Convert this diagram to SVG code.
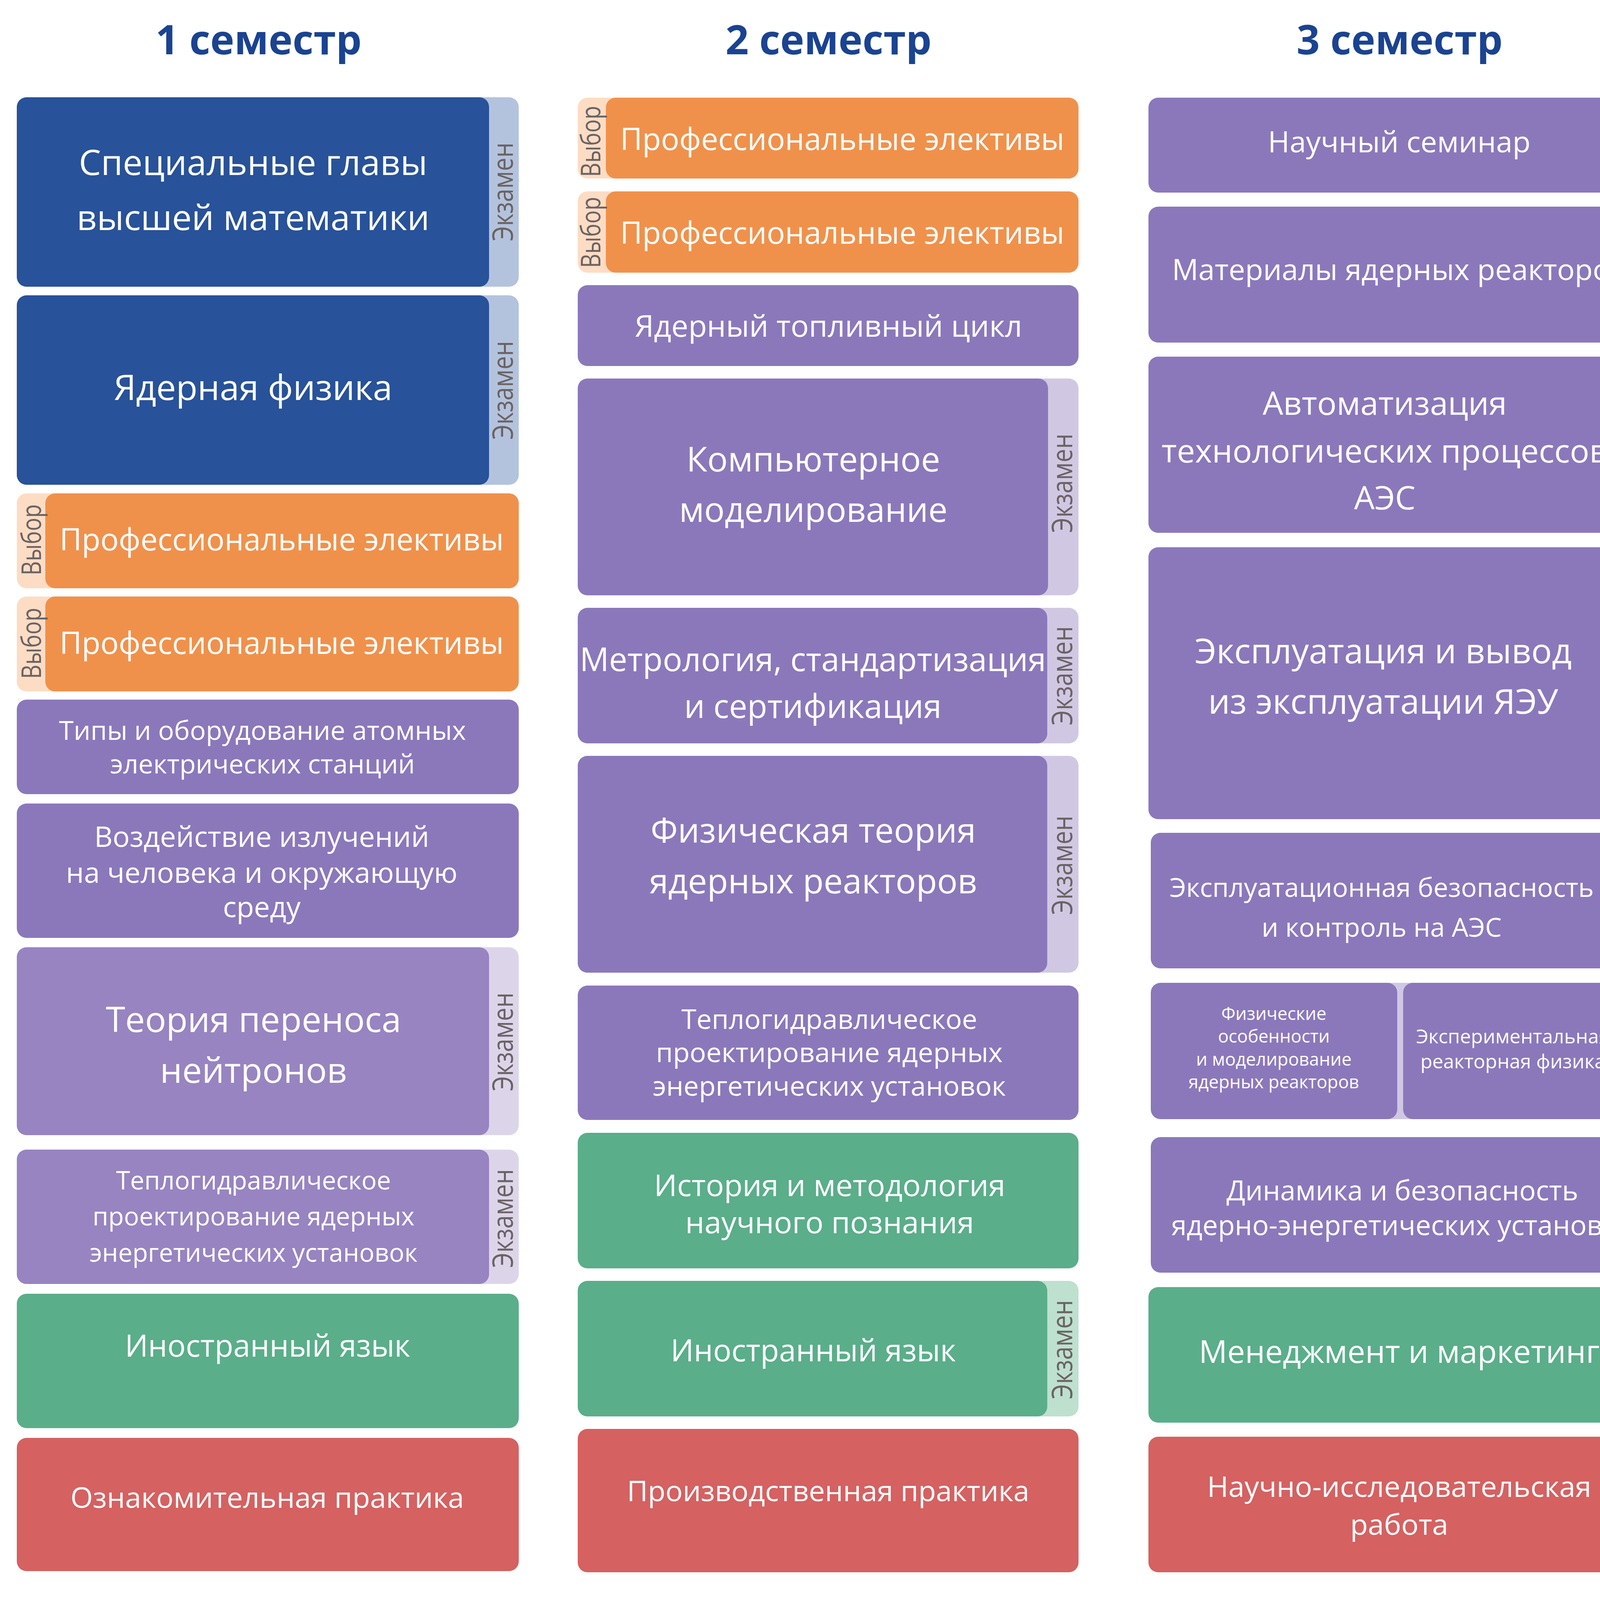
<svg xmlns="http://www.w3.org/2000/svg" width="5700" height="4327" viewBox="0 0 5700 4327">
<style>
text{font-family:"Open Sans","Noto Sans","DejaVu Sans",sans-serif}
.t{fill:#fff;text-anchor:middle}
.title{fill:#1a4391;font-weight:700;font-size:104px;text-anchor:middle}
.leg{fill:#1a4391;font-size:78px}
.ex{fill:#6a6363;font-size:74px;text-anchor:middle}
.vy{fill:#6a6363;font-size:70px;text-anchor:middle}
.blue{fill:#285299}.tblue{fill:#b4c3dd}
.or{fill:#f0914b}.tor{fill:#fddcc4}
.pu{fill:#8b78bb}.tpu{fill:#d0c8e3}
.pl{fill:#9784c1}.tpl{fill:#dcd5ea}
.gr{fill:#5aae8a}.tgr{fill:#bde0cf}
.rd{fill:#d56161}
</style>
<rect width="5700" height="4327" fill="#fff"/>
<g id="titles">
<text class="title" x="662" y="139">1 семестр</text>
<text class="title" x="2121" y="139">2 семестр</text>
<text class="title" x="3583" y="139">3 семестр</text>
<text class="title" x="5044" y="139">4 семестр</text>
</g>
<g id="connectors"/>
<!-- Column 1 -->
<g id="s1-math">
<rect class="tblue" x="43" y="249" width="1285" height="485" rx="25"/>
<rect class="blue" x="43" y="249" width="1209" height="485" rx="25"/>
<text class="t" font-size="90" x="648" y="448">Специальные главы</text>
<text class="t" font-size="90" x="648" y="589">высшей математики</text>
<text class="ex" transform="translate(1313,491) rotate(-90)" textLength="253" lengthAdjust="spacingAndGlyphs">Экзамен</text>
</g>
<g id="s1-nucphys">
<rect class="tblue" x="43" y="756" width="1285" height="485" rx="25"/>
<rect class="blue" x="43" y="756" width="1209" height="485" rx="25"/>
<text class="t" font-size="90" x="648" y="1024">Ядерная физика</text>
<text class="ex" transform="translate(1313,999) rotate(-90)" textLength="253" lengthAdjust="spacingAndGlyphs">Экзамен</text>
</g>
<g id="s1-elect1">
<rect class="tor" x="43" y="1263" width="1285" height="243" rx="25"/>
<rect class="or" x="116" y="1263" width="1212" height="243" rx="25"/>
<text class="t" font-size="78" x="721" y="1409">Профессиональные элективы</text>
<text class="vy" transform="translate(105,1382) rotate(-90)" textLength="182" lengthAdjust="spacingAndGlyphs">Выбор</text>
</g>
<g id="s1-elect2">
<rect class="tor" x="43" y="1527" width="1285" height="243" rx="25"/>
<rect class="or" x="116" y="1527" width="1212" height="243" rx="25"/>
<text class="t" font-size="78" x="721" y="1674">Профессиональные элективы</text>
<text class="vy" transform="translate(105,1647) rotate(-90)" textLength="182" lengthAdjust="spacingAndGlyphs">Выбор</text>
</g>
<g id="s1-npp">
<rect class="pu" x="43" y="1791" width="1285" height="242" rx="25"/>
<text class="t" font-size="68" x="672" y="1894">Типы и оборудование атомных</text>
<text class="t" font-size="68" x="672" y="1980">электрических станций</text>
</g>
<g id="s1-radiation">
<rect class="pu" x="43" y="2057" width="1285" height="344" rx="25"/>
<text class="t" font-size="73" x="670" y="2168">Воздействие излучений</text>
<text class="t" font-size="73" x="670" y="2260">на человека и окружающую</text>
<text class="t" font-size="73" x="670" y="2348">среду</text>
</g>
<g id="s1-transport">
<rect class="tpl" x="43" y="2425" width="1285" height="481" rx="25"/>
<rect class="pl" x="43" y="2425" width="1209" height="481" rx="25"/>
<text class="t" font-size="90" x="649" y="2642">Теория переноса</text>
<text class="t" font-size="90" x="649" y="2772">нейтронов</text>
<text class="ex" transform="translate(1313,2667) rotate(-90)" textLength="253" lengthAdjust="spacingAndGlyphs">Экзамен</text>
</g>
<g id="s1-thermo">
<rect class="tpl" x="43" y="2943" width="1285" height="344" rx="25"/>
<rect class="pl" x="43" y="2943" width="1209" height="344" rx="25"/>
<text class="t" font-size="65" x="649" y="3045">Теплогидравлическое</text>
<text class="t" font-size="65" x="649" y="3137">проектирование ядерных</text>
<text class="t" font-size="65" x="649" y="3230">энергетических установок</text>
<text class="ex" transform="translate(1313,3119) rotate(-90)" textLength="253" lengthAdjust="spacingAndGlyphs">Экзамен</text>
</g>
<g id="s1-lang">
<rect class="gr" x="43" y="3312" width="1285" height="344" rx="25"/>
<text class="t" font-size="78" x="685" y="3473">Иностранный язык</text>
</g>
<g id="s1-practice">
<rect class="rd" x="43" y="3681" width="1285" height="341" rx="25"/>
<text class="t" font-size="74" x="684" y="3860">Ознакомительная практика</text>
</g>
<!-- Column 2 -->
<g id="s2-elect1">
<rect class="tor" x="1479" y="250" width="1282" height="207" rx="25"/>
<rect class="or" x="1551" y="250" width="1210" height="207" rx="25"/>
<text class="t" font-size="78" x="2156" y="384">Профессиональные элективы</text>
<text class="vy" transform="translate(1537,362) rotate(-90)" textLength="182" lengthAdjust="spacingAndGlyphs">Выбор</text>
</g>
<g id="s2-elect2">
<rect class="tor" x="1479" y="490" width="1282" height="208" rx="25"/>
<rect class="or" x="1551" y="490" width="1210" height="208" rx="25"/>
<text class="t" font-size="78" x="2156" y="624">Профессиональные элективы</text>
<text class="vy" transform="translate(1537,595) rotate(-90)" textLength="182" lengthAdjust="spacingAndGlyphs">Выбор</text>
</g>
<g id="s2-fuel">
<rect class="pu" x="1479" y="730" width="1282" height="207" rx="25"/>
<text class="t" font-size="77.5" x="2121" y="862">Ядерный топливный цикл</text>
</g>
<g id="s2-modeling">
<rect class="tpu" x="1479" y="969" width="1282" height="555" rx="25"/>
<rect class="pu" x="1479" y="969" width="1204" height="555" rx="25"/>
<text class="t" font-size="87.5" x="2082" y="1207">Компьютерное</text>
<text class="t" font-size="87.5" x="2082" y="1336">моделирование</text>
<text class="ex" transform="translate(2745,1237) rotate(-90)" textLength="254" lengthAdjust="spacingAndGlyphs">Экзамен</text>
</g>
<g id="s2-metrology">
<rect class="tpu" x="1479" y="1556" width="1282" height="347" rx="25"/>
<rect class="pu" x="1479" y="1556" width="1202" height="347" rx="25"/>
<text class="t" font-size="83.5" x="2081" y="1718">Метрология, стандартизация</text>
<text class="t" font-size="83.5" x="2081" y="1838">и сертификация</text>
<text class="ex" transform="translate(2745,1730) rotate(-90)" textLength="254" lengthAdjust="spacingAndGlyphs">Экзамен</text>
</g>
<g id="s2-reactor-theory">
<rect class="tpu" x="1479" y="1935" width="1282" height="555" rx="25"/>
<rect class="pu" x="1479" y="1935" width="1202" height="555" rx="25"/>
<text class="t" font-size="87.5" x="2082" y="2157">Физическая теория</text>
<text class="t" font-size="87.5" x="2082" y="2287">ядерных реакторов</text>
<text class="ex" transform="translate(2745,2215) rotate(-90)" textLength="254" lengthAdjust="spacingAndGlyphs">Экзамен</text>
</g>
<g id="s2-thermo">
<rect class="pu" x="1479" y="2523" width="1282" height="344" rx="25"/>
<text class="t" font-size="70" x="2123" y="2634">Теплогидравлическое</text>
<text class="t" font-size="70" x="2123" y="2719">проектирование ядерных</text>
<text class="t" font-size="70" x="2123" y="2805">энергетических установок</text>
</g>
<g id="s2-history">
<rect class="gr" x="1479" y="2900" width="1282" height="347" rx="25"/>
<text class="t" font-size="77.5" x="2124" y="3062">История и методология</text>
<text class="t" font-size="77.5" x="2124" y="3157">научного познания</text>
</g>
<g id="s2-lang">
<rect class="tgr" x="1479" y="3279" width="1282" height="347" rx="25"/>
<rect class="gr" x="1479" y="3279" width="1202" height="347" rx="25"/>
<text class="t" font-size="78" x="2082" y="3485">Иностранный язык</text>
<text class="ex" transform="translate(2745,3455) rotate(-90)" textLength="254" lengthAdjust="spacingAndGlyphs">Экзамен</text>
</g>
<g id="s2-practice">
<rect class="rd" x="1479" y="3658" width="1282" height="367" rx="25"/>
<text class="t" font-size="73.5" x="2120" y="3843">Производственная практика</text>
</g>
<!-- Column 3 -->
<g id="s3-seminar">
<rect class="pu" x="2940" y="250" width="1282" height="243" rx="25"/>
<text class="t" font-size="75.5" x="3582" y="390">Научный семинар</text>
</g>
<g id="s3-materials">
<rect class="pu" x="2940" y="529" width="1282" height="348" rx="25"/>
<text class="t" font-size="75.3" x="3583" y="717">Материалы ядерных реакторов</text>
</g>
<g id="s3-automation">
<rect class="tpu" x="2940" y="913" width="1280" height="451" rx="25"/>
<rect class="pu" x="2940" y="913" width="1202" height="451" rx="25"/>
<text class="t" font-size="83" x="3545" y="1062">Автоматизация</text>
<text class="t" font-size="83" x="3545" y="1184">технологических процессов</text>
<text class="t" font-size="83" x="3545" y="1304">АЭС</text>
<text class="ex" transform="translate(4208,1141) rotate(-90)" textLength="256" lengthAdjust="spacingAndGlyphs">Экзамен</text>
</g>
<g id="s3-operation">
<rect class="tpu" x="2940" y="1401" width="1280" height="696" rx="25"/>
<rect class="pu" x="2940" y="1401" width="1202" height="696" rx="25"/>
<text class="t" font-size="88" x="3541" y="1698">Эксплуатация и вывод</text>
<text class="t" font-size="88" x="3541" y="1827">из эксплуатации ЯЭУ</text>
<text class="ex" transform="translate(4208,1718) rotate(-90)" textLength="259" lengthAdjust="spacingAndGlyphs">Экзамен</text>
</g>
<g id="s3-safety">
<rect class="tpu" x="2946" y="2132" width="1279" height="347" rx="25"/>
<rect class="pu" x="2946" y="2132" width="1202" height="347" rx="25"/>
<text class="t" font-size="67.6" x="3537" y="2296">Эксплуатационная безопасность</text>
<text class="t" font-size="67.6" x="3537" y="2398">и контроль на АЭС</text>
<text class="ex" transform="translate(4213,2309) rotate(-90)" textLength="258" lengthAdjust="spacingAndGlyphs">Экзамен</text>
</g>
<g id="s3-physics-pair">
<rect class="tpu" x="3500" y="2516" width="725" height="349" rx="25"/>
<g id="s3-phys-features">
<rect class="pu" x="2946" y="2516" width="631" height="349" rx="25"/>
<text class="t" font-size="45.5" x="3261" y="2611">Физические</text>
<text class="t" font-size="45.5" x="3261" y="2669">особенности</text>
<text class="t" font-size="45.5" x="3261" y="2728">и моделирование</text>
<text class="t" font-size="45.5" x="3261" y="2786">ядерных реакторов</text>
</g>
<g id="s3-exp-physics">
<rect class="pu" x="3592" y="2516" width="559" height="349" rx="25"/>
<text class="t" font-size="50" x="3873" y="2671">Экспериментальная</text>
<text class="t" font-size="50" x="3873" y="2735">реакторная физика</text>
</g>
<text class="ex" transform="translate(4213,2741) rotate(-90)" textLength="258" lengthAdjust="spacingAndGlyphs">Экзамен</text>
</g>
<g id="s3-dynamics">
<rect class="pu" x="2946" y="2911" width="1281" height="347" rx="25"/>
<text class="t" font-size="70.5" x="3590" y="3073">Динамика и безопасность</text>
<text class="t" font-size="70.5" x="3590" y="3162">ядерно-энергетических установок</text>
</g>
<g id="s3-management">
<rect class="gr" x="2940" y="3295" width="1282" height="347" rx="25"/>
<text class="t" font-size="81" x="3582" y="3489">Менеджмент и маркетинг</text>
</g>
<g id="s3-research">
<rect class="rd" x="2940" y="3678" width="1282" height="347" rx="25"/>
<text class="t" font-size="74" x="3582" y="3832">Научно-исследовательская</text>
<text class="t" font-size="74" x="3582" y="3929">работа</text>
</g>
<!-- Column 4 -->
<g id="s4-course">
<rect class="pu" x="4400" y="234" width="1283" height="346" rx="25"/>
<text class="t" font-size="78" x="5044" y="386">Курс подготовки к написанию</text>
<text class="t" font-size="78" x="5044" y="482">магистерской диссертации</text>
</g>
<g id="s4-predip">
<rect class="rd" x="4399" y="619" width="1283" height="3420" rx="25"/>
<text class="t" font-size="78" x="5040" y="2257">Преддипломная практика</text>
<text class="t" font-size="78" x="5040" y="2354">и подготовка выпускной</text>
<text class="t" font-size="78" x="5040" y="2449">квалификационной работы</text>
</g>
<!-- Legend -->
<g id="legend">
<rect class="blue" x="43" y="4100" width="290" height="82" rx="25"/>
<text class="leg" x="380" y="4172">Базовые физико-математические дисциплины</text>
<rect class="rd" x="43" y="4253" width="290" height="86" rx="25"/>
<text class="leg" x="380" y="4327">Практики и научно-исследовательская работа</text>
<rect class="or" x="2440" y="4102" width="289" height="86" rx="25"/>
<text class="leg" x="2773" y="4174">Общие инженерные дисциплины</text>
<rect class="gr" x="2440" y="4259" width="289" height="86" rx="25"/>
<text class="leg" x="2773" y="4330">Гуманитарный блок и прочие</text>
<rect class="pl" x="4340" y="4095" width="290" height="88" rx="25"/>
<text class="leg" x="4675" y="4171">Профильные</text>
<text class="leg" x="4675" y="4266">технические дисциплины</text>
</g>
</svg>
